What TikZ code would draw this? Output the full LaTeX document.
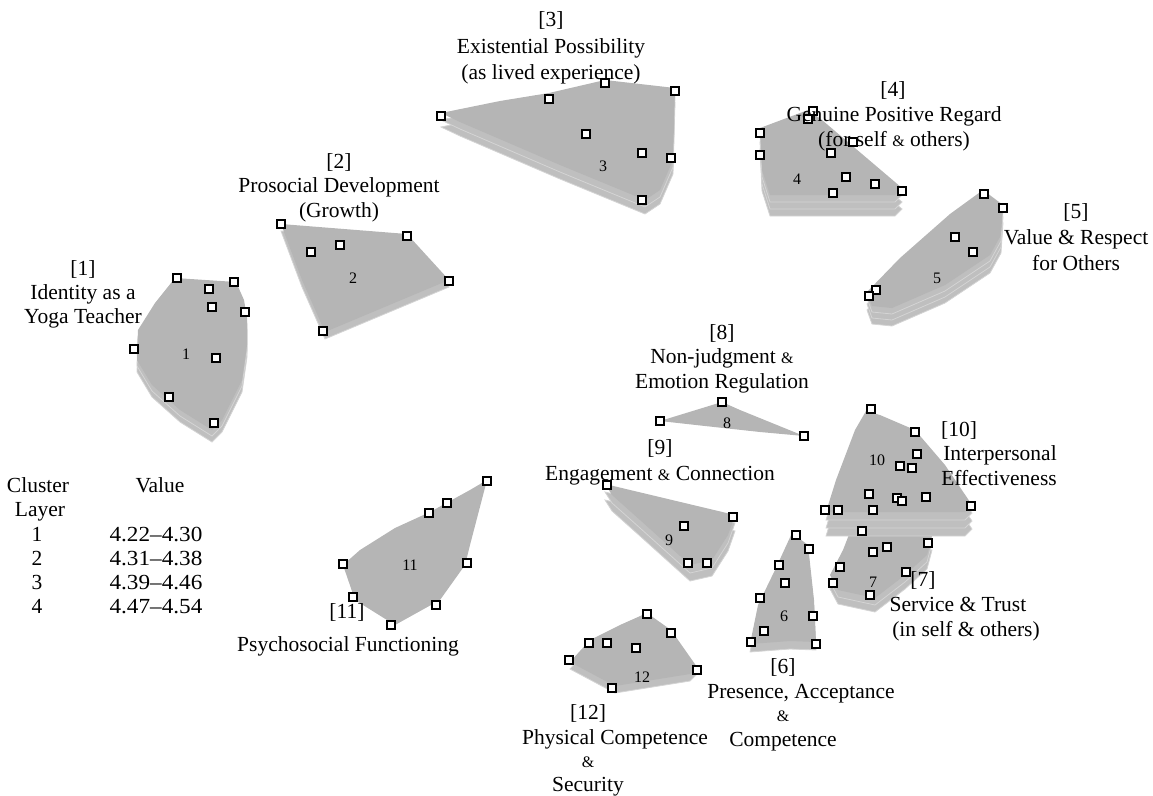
\documentclass[tikz,border=0pt]{standalone}
\usepackage{fontspec}
\setmainfont{Liberation Serif}
\newcommand\lblfont{\fontsize{21.5}{25}\selectfont}
\newcommand\numfont{\fontsize{16}{18}\selectfont}
\newcommand\amp{{\fontsize{16}{18}\selectfont\&}}
\definecolor{layertop}{gray}{0.71}
\definecolor{layerlow}{gray}{0.75}
\definecolor{layeredge}{gray}{0.83}
\newcommand\clusterpoly[3]{%
  \foreach \k in {#1,...,1}{%
    \pgfmathsetmacro\dy{(\k-1)*#2}%
    \ifnum\k=1
      \fill[layertop] #3 -- cycle;
    \else
      \filldraw[fill=layerlow, draw=layeredge, line width=0.8pt, shift={(0,\dy)}] #3 -- cycle;
    \fi
  }}
\begin{document}
\begin{tikzpicture}[x=1pt,y=-1pt,
  pt/.style={rectangle, draw=black, line width=2.1pt, fill=white, minimum size=7.6pt, inner sep=0pt},
  lbl/.style={font=\lblfont, anchor=base, inner sep=0pt},
  leg/.style={font=\lblfont, anchor=base, inner sep=0pt, xscale=1.08, transform shape},
  num/.style={font=\numfont, inner sep=0pt}]
\useasboundingbox (0,0) rectangle (1153,795);

% ---------- cluster shapes ----------
\clusterpoly{3}{6}{(175,278) -- (236,282) -- (244,300) -- (247,318) -- (247,345) -- (242,380) -- (222,420) -- (212,430) -- (180,410) -- (152,385) -- (137,360) -- (138,330) -- (155,303)}
\clusterpoly{2}{7}{(281,224) -- (407,234) -- (449,280) -- (325,332) -- (302,280)}
\clusterpoly{3}{7}{(441,113) -- (500,101) -- (549,93) -- (605,80) -- (675,88) -- (673,160) -- (660,190) -- (645,200) -- (560,165) -- (460,122)}
\clusterpoly{4}{7}{(760,128) -- (808,110) -- (822,120) -- (902,188) -- (895,195) -- (770,195) -- (762,170)}
\clusterpoly{4}{6}{(983,190) -- (1003,205) -- (1001,235) -- (990,255) -- (945,285) -- (892,308) -- (872,306) -- (867,292) -- (900,258) -- (950,214)}
\clusterpoly{1}{6}{(660,421) -- (722,402) -- (740,410) -- (804,436) -- (760,432) -- (705,426)}
\clusterpoly{3}{8}{(605,484) -- (735,515) -- (728,535) -- (712,560) -- (690,565) -- (640,520) -- (612,495)}
\clusterpoly{3}{7}{(850,532) -- (932,536) -- (927,555) -- (905,575) -- (875,598) -- (838,590) -- (830,575) -- (843,550)}
\clusterpoly{4}{8}{(866,411) -- (880,415) -- (915,430) -- (945,465) -- (972,505) -- (965,512) -- (826,512) -- (836,480) -- (855,430)}
\clusterpoly{2}{8}{(792,533) -- (808,545) -- (814,600) -- (816,642) -- (790,641) -- (750,644) -- (758,605) -- (775,570)}
\clusterpoly{1}{6}{(487,480) -- (470,545) -- (465,565) -- (440,600) -- (395,625) -- (355,600) -- (343,565) -- (360,550) -- (395,528) -- (430,512) -- (470,490)}
\clusterpoly{2}{7}{(647,613) -- (671,630) -- (697,667) -- (690,674) -- (615,686) -- (570,662) -- (590,640) -- (620,625)}

% ---------- cluster numbers ----------
\node[num] (n1) at (186,354) {1};
\node[num] (n2) at (353,278) {2};
\node[num] (n3) at (603,166) {3};
\node[num] (n4) at (797,179) {4};
\node[num] (n5) at (937,278) {5};
\node[num] (n6) at (784,616) {6};
\node[num] (n7) at (873,582) {7};
\node[num] (n8) at (727,423) {8};
\node[num] (n9) at (669,540) {9};
\node[num] (n10) at (877,460) {10};
\node[num] (n11) at (410,565) {11};
\node[num] (n12) at (642,677) {12};

% ---------- statement points ----------
\foreach \p [count=\i] in {(177,278),(209,289),(234,282),(212,307),(245,312),(134,349),(216,358),(169,397),(214,423)}
  \node[pt] (a\i) at \p {};
\foreach \p [count=\i] in {(281,224),(311,252),(340,245),(407,236),(449,281),(323,331)}
  \node[pt] (b\i) at \p {};
\foreach \p [count=\i] in {(441,116),(549,99),(605,83),(675,91),(586,134),(642,153),(671,158),(642,200)}
  \node[pt] (c\i) at \p {};
\foreach \p [count=\i] in {(813,111),(808,119),(760,133),(760,155),(831,153),(853,142),(846,177),(875,184),(833,193),(902,191)}
  \node[pt] (d\i) at \p {};
\foreach \p [count=\i] in {(984,194),(1003,208),(955,237),(973,252),(876,290),(869,296)}
  \node[pt] (e\i) at \p {};
\foreach \p [count=\i] in {(660,421),(722,402),(804,436)}
  \node[pt] (h\i) at \p {};
\foreach \p [count=\i] in {(607,485),(733,517),(684,526),(688,563),(707,563)}
  \node[pt] (k\i) at \p {};
\foreach \p [count=\i] in {(871,409),(915,432),(917,454),(900,466),(912,468),(869,494),(897,498),(902,501),(926,497),(971,506),(825,510),(838,510),(873,510)}
  \node[pt] (m\i) at \p {};
\foreach \p [count=\i] in {(862,531),(873,552),(887,547),(928,543),(840,567),(833,583),(906,572),(870,595)}
  \node[pt] (g\i) at \p {};
\foreach \p [count=\i] in {(796,535),(809,549),(779,565),(785,583),(760,598),(813,616),(764,631),(751,642),(816,644)}
  \node[pt] (f\i) at \p {};
\foreach \p [count=\i] in {(487,481),(447,503),(429,513),(343,564),(467,563),(353,597),(436,605),(391,625)}
  \node[pt] (q\i) at \p {};
\foreach \p [count=\i] in {(647,614),(671,633),(589,643),(607,643),(636,648),(569,660),(697,670),(612,688)}
  \node[pt] (r\i) at \p {};

% ---------- cluster labels ----------
\node[lbl] (l1a) at (83,275) {[1]};
\node[lbl] (l1b) at (83,299) {Identity as a};
\node[lbl] (l1c) at (83,323) {Yoga Teacher};

\node[lbl] (l2a) at (339,168) {[2]};
\node[lbl] (l2b) at (339,192) {Prosocial Development};
\node[lbl] (l2c) at (339,217) {(Growth)};

\node[lbl] (l3a) at (551,27) {[3]};
\node[lbl] (l3b) at (551,53) {Existential Possibility};
\node[lbl] (l3c) at (551,79) {(as lived experience)};

\node[lbl] (l4a) at (893,96) {[4]};
\node[lbl] (l4b) at (894,121) {Genuine Positive Regard};
\node[lbl] (l4c) at (894,146) {(for self \amp{} others)};

\node[lbl] (l5a) at (1076,218) {[5]};
\node[lbl] (l5b) at (1076,244) {Value \& Respect};
\node[lbl] (l5c) at (1076,270) {for Others};

\node[lbl] (l8a) at (722,339) {[8]};
\node[lbl] (l8b) at (722,363) {Non-judgment \amp};
\node[lbl] (l8c) at (722,388) {Emotion Regulation};

\node[lbl] (l9a) at (660,454) {[9]};
\node[lbl] (l9b) at (660,480) {Engagement \amp{} Connection};

\node[lbl] (l10a) at (959,436) {[10]};
\node[lbl] (l10b) at (1000,460) {Interpersonal};
\node[lbl] (l10c) at (999,485) {Effectiveness};

\node[lbl] (l7a) at (923,586) {[7]};
\node[lbl] (l7b) at (958,611) {Service \& Trust};
\node[lbl] (l7c) at (966,636) {(in self \& others)};

\node[lbl] (l6a) at (783,673) {[6]};
\node[lbl] (l6b) at (801,698) {Presence, Acceptance};
\node[lbl] (l6c) at (783,721) {\amp};
\node[lbl] (l6d) at (783,746) {Competence};

\node[lbl] (l11a) at (347,618) {[11]};
\node[lbl] (l11b) at (348,651) {Psychosocial Functioning};

\node[lbl] (l12a) at (588,719) {[12]};
\node[lbl] (l12b) at (615,744) {Physical Competence};
\node[lbl] (l12c) at (588,767) {\amp};
\node[lbl] (l12d) at (588,791) {Security};

% ---------- legend ----------
\node[lbl] (hcl) at (38,492) {Cluster};
\node[lbl] (hva) at (160,492) {Value};
\node[lbl] (hla) at (40,516) {Layer};
\foreach \n/\v/\y in {1/4.22--4.30/541, 2/4.31--4.38/565, 3/4.39--4.46/589, 4/4.47--4.54/613}{
  \node[lbl] (ln\n) at (37,\y) {\n};
  \node[leg] (lv\n) at (156,\y) {\v};
}
\end{tikzpicture}
\end{document}
